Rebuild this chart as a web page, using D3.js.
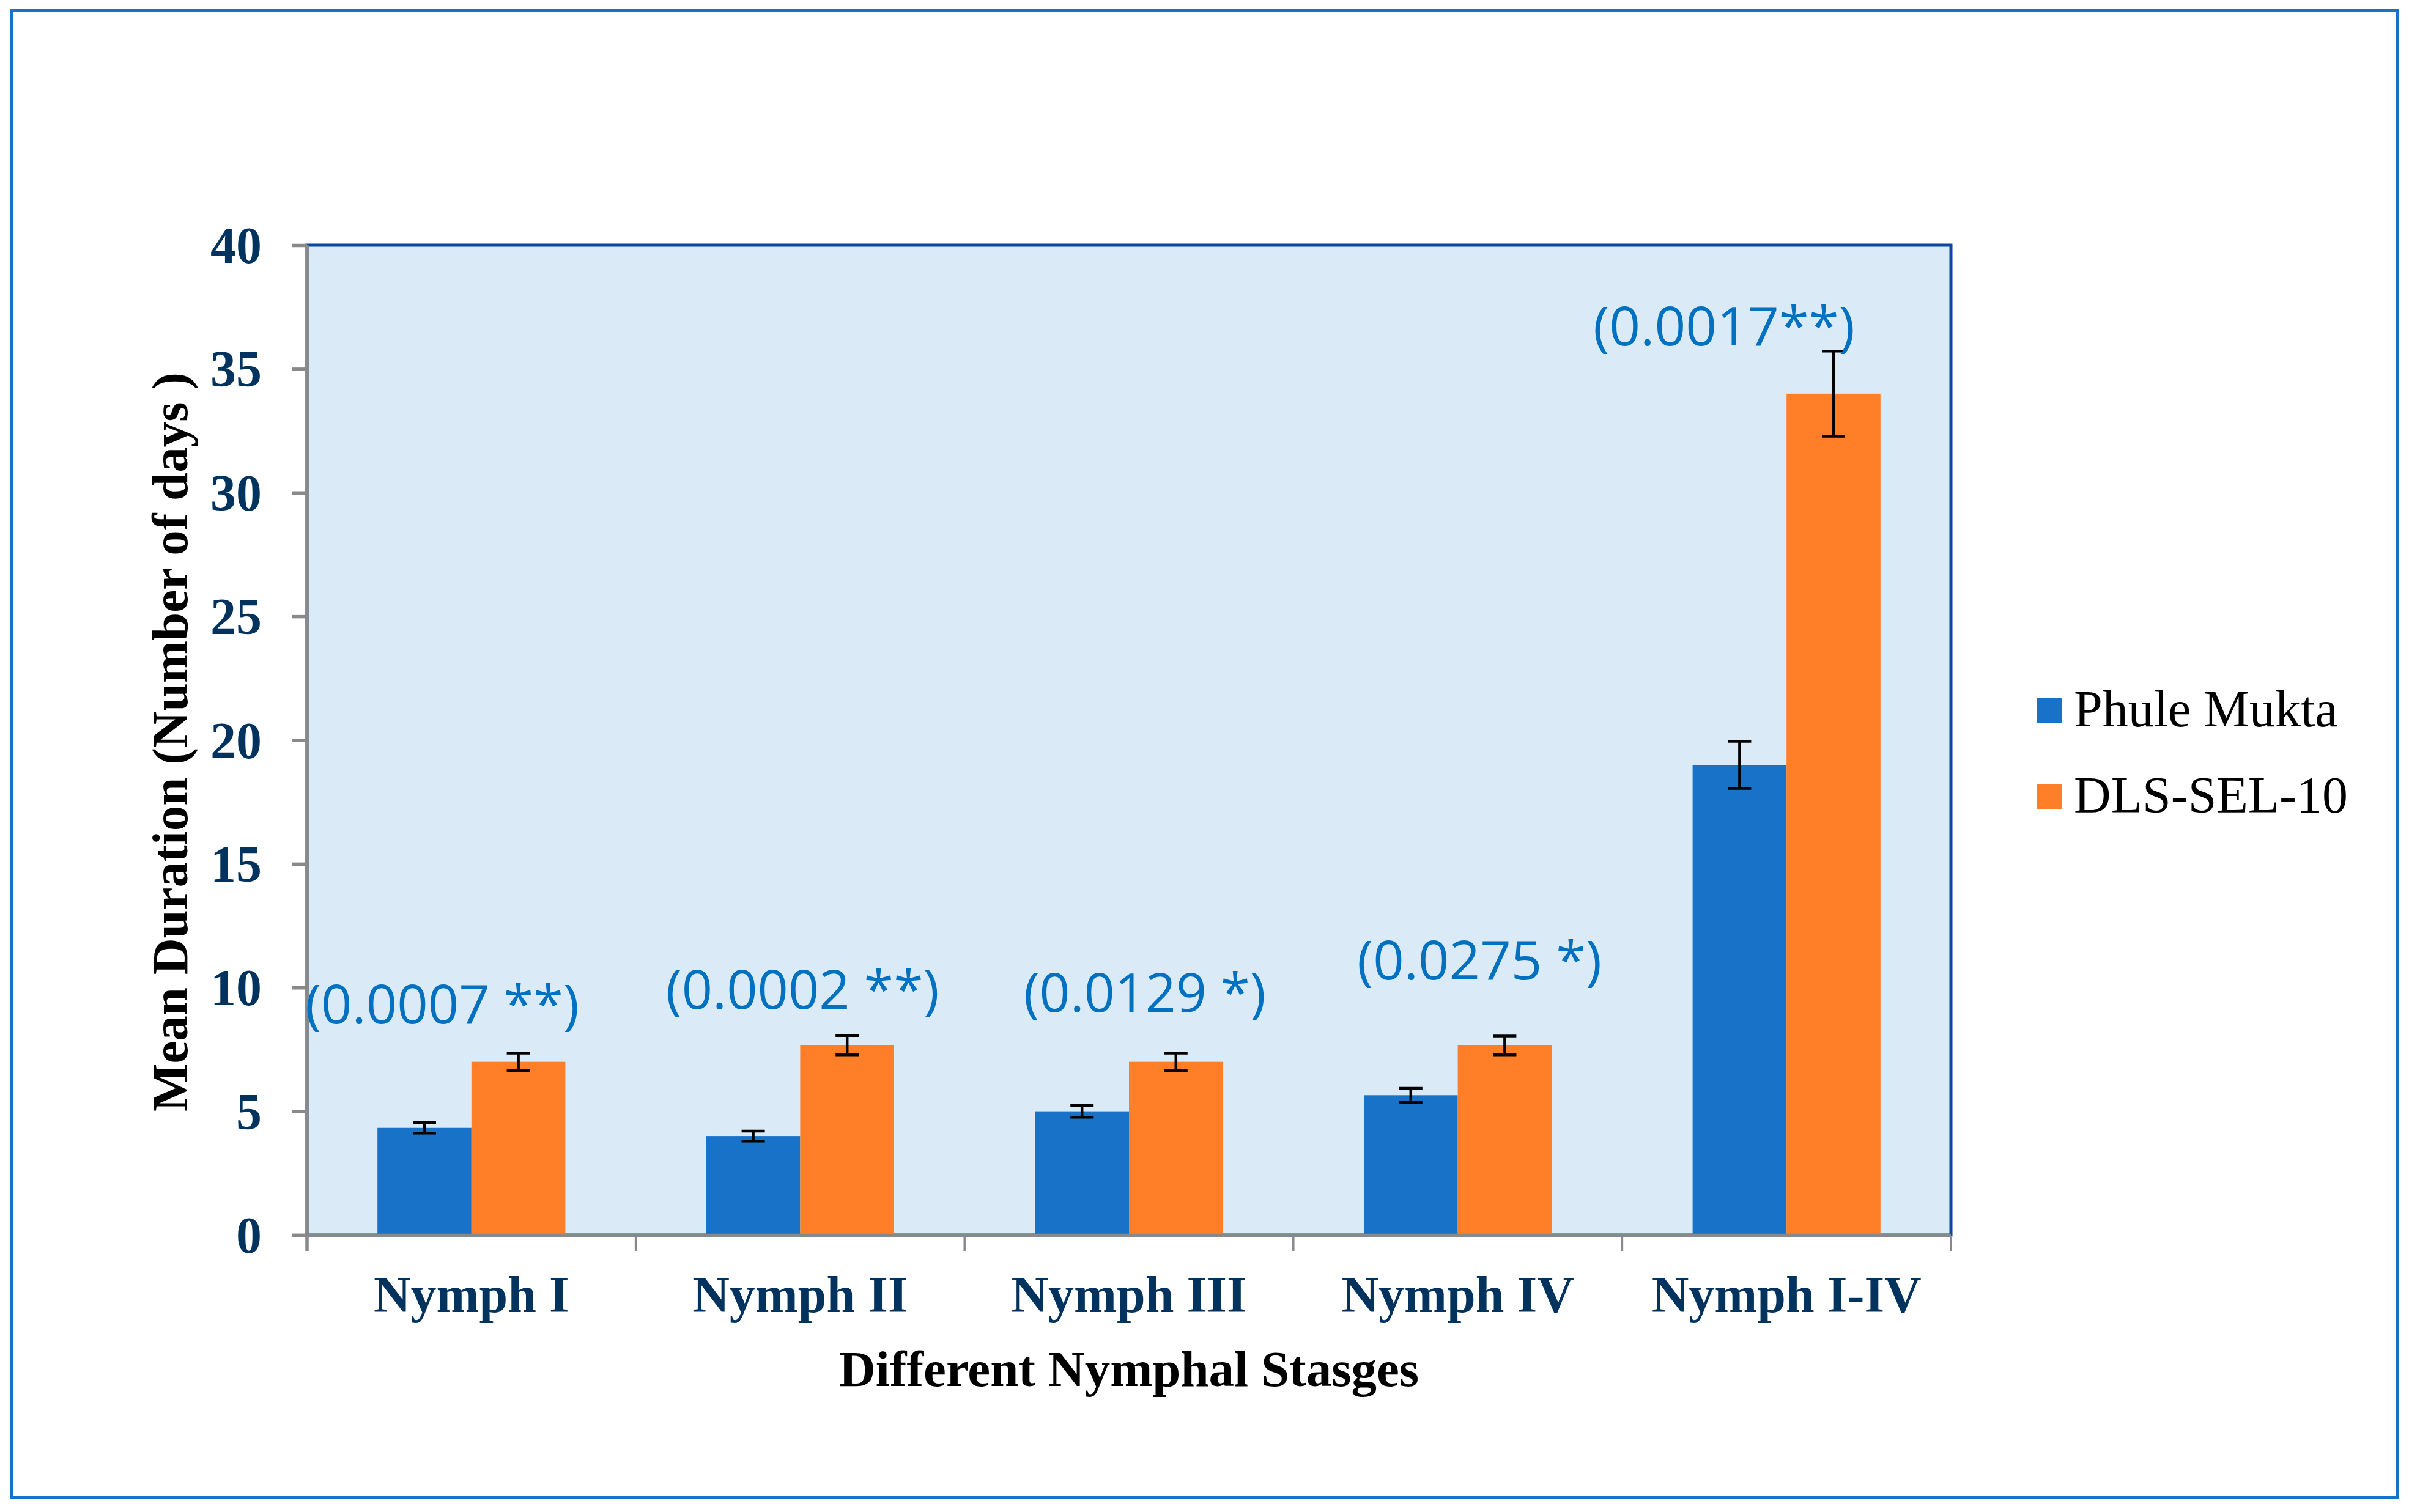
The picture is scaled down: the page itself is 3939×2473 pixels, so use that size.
<!DOCTYPE html>
<html>
<head>
<meta charset="utf-8">
<script src="https://cdn.jsdelivr.net/npm/d3@7"></script>
<style>
  html, body { margin: 0; padding: 0; background: #fff; }
  svg { display: block; }
</style>
</head>
<body>
<svg id="chart" width="3939" height="2473"></svg>
<script>
// ---------------- data ----------------
const categories = ["Nymph I", "Nymph II", "Nymph III", "Nymph IV", "Nymph I-IV"];
const seriesNames = ["Phule Mukta", "DLS-SEL-10"];
const phuleMukta = [4.33, 4.0, 5.0, 5.65, 19.0];
const dlsSel10 = [7.0, 7.67, 7.0, 7.66, 34.0];
const phuleMuktaErr = [0.21, 0.2, 0.24, 0.28, 0.95];
const dlsSel10Err = [0.35, 0.39, 0.35, 0.38, 1.72];
const pValueLabels = ["(0.0007 **)", "(0.0002 **)", "(0.0129 *)", "(0.0275 *)", "(0.0017**)"];
const pValueLevels = [8.55, 9.14, 9.01, 10.33, 35.95];   // label baseline, in axis units
const yTickValues = [0, 5, 10, 15, 20, 25, 30, 35, 40];
const yTitle = "Mean Duration (Number of days )";
const xTitle = "Different Nymphal Stasges";

// ---------------- layout / style ----------------
const W = 3939, H = 2473;
const plot = { left: 502, right: 3190, top: 401, bottom: 2020 };
const colors = { "Phule Mukta": "#1873c8", "DLS-SEL-10": "#fe7f28" };
const navy = "#02335f";
const gray = "#898989";
// manual placement of the p-value labels (fraction of band offset, target width)
const annotShift = [-0.089, 0.007, 0.048, 0.066, -0.19];
const annotWidth = [448, 447, 396, 400, 428];

const svg = d3.select("#chart");

// outer frame
svg.append("rect")
  .attr("x", 18.5).attr("y", 17.5)
  .attr("width", 3919.5 - 18.5).attr("height", 2449.5 - 17.5)
  .attr("fill", "#fff").attr("stroke", "#1873c8").attr("stroke-width", 5);

const x0 = d3.scaleBand().domain(categories).range([plot.left, plot.right]).padding(0);
const x1 = d3.scaleBand().domain(seriesNames).range([0, x0.bandwidth()]).paddingInner(0).paddingOuter(0.75);
const y = d3.scaleLinear().domain([0, 40]).range([plot.bottom, plot.top]);

// plot area
svg.append("rect")
  .attr("x", plot.left).attr("y", plot.top)
  .attr("width", plot.right - plot.left).attr("height", plot.bottom - plot.top)
  .attr("fill", "#daebf7").attr("stroke", "#0b479c").attr("stroke-width", 5);

// bars
const rows = categories.map((c, i) => ({
  cat: c,
  vals: [
    { s: seriesNames[0], v: phuleMukta[i], e: phuleMuktaErr[i] },
    { s: seriesNames[1], v: dlsSel10[i], e: dlsSel10Err[i] }
  ]
}));

const groups = svg.append("g").selectAll("g")
  .data(rows).join("g")
  .attr("transform", d => `translate(${x0(d.cat)},0)`);

groups.selectAll("rect")
  .data(d => d.vals).join("rect")
  .attr("x", d => x1(d.s))
  .attr("width", x1.bandwidth())
  .attr("y", d => y(d.v))
  .attr("height", d => y(0) - y(d.v))
  .attr("fill", d => colors[d.s]);

// error bars
const capHalf = 19;
const eb = groups.selectAll("g.err")
  .data(d => d.vals).join("g").attr("class", "err")
  .attr("stroke", "#000").attr("stroke-width", 4.5);
eb.append("line")
  .attr("x1", d => x1(d.s) + x1.bandwidth() / 2).attr("x2", d => x1(d.s) + x1.bandwidth() / 2)
  .attr("y1", d => y(d.v + d.e)).attr("y2", d => y(d.v - d.e));
eb.append("line")
  .attr("x1", d => x1(d.s) + x1.bandwidth() / 2 - capHalf).attr("x2", d => x1(d.s) + x1.bandwidth() / 2 + capHalf)
  .attr("y1", d => y(d.v + d.e)).attr("y2", d => y(d.v + d.e));
eb.append("line")
  .attr("x1", d => x1(d.s) + x1.bandwidth() / 2 - capHalf).attr("x2", d => x1(d.s) + x1.bandwidth() / 2 + capHalf)
  .attr("y1", d => y(d.v - d.e)).attr("y2", d => y(d.v - d.e));

// y axis
const yAxis = svg.append("g")
  .attr("transform", `translate(${plot.left},0)`)
  .call(d3.axisLeft(y).tickValues(yTickValues).tickSize(24).tickPadding(50).tickFormat(d3.format("d")));
yAxis.select(".domain").remove();
yAxis.selectAll(".tick line").attr("stroke", gray).attr("stroke-width", 5.5);
yAxis.selectAll(".tick text")
  .attr("fill", navy)
  .attr("font-family", "'Liberation Serif', 'Times New Roman', serif")
  .attr("font-weight", "bold")
  .attr("font-size", 84)
  .attr("dy", "0.34em");
svg.append("line")
  .attr("x1", plot.left).attr("x2", plot.left)
  .attr("y1", plot.top).attr("y2", plot.bottom + 26)
  .attr("stroke", gray).attr("stroke-width", 5.5);

// x axis
svg.append("line")
  .attr("x1", plot.left - 24).attr("x2", plot.right)
  .attr("y1", plot.bottom + 0.5).attr("y2", plot.bottom + 0.5)
  .attr("stroke", gray).attr("stroke-width", 5.5);
const bounds = categories.map(c => x0(c)).concat([plot.right]);
svg.append("g").selectAll("line")
  .data(bounds).join("line")
  .attr("x1", d => d).attr("x2", d => d)
  .attr("y1", plot.bottom + 3).attr("y2", plot.bottom + 26)
  .attr("stroke", gray).attr("stroke-width", 3.5);

const xAxis = svg.append("g")
  .attr("transform", `translate(0,${plot.bottom})`)
  .call(d3.axisBottom(x0).tickSize(0).tickPadding(0));
xAxis.select(".domain").remove();
xAxis.selectAll(".tick text")
  .attr("fill", navy)
  .attr("font-family", "'Liberation Serif', 'Times New Roman', serif")
  .attr("font-weight", "bold")
  .attr("font-size", 84)
  .attr("dy", 0)
  .attr("y", 126);

// p-value annotations
svg.append("g").selectAll("text")
  .data(pValueLabels).join("text")
  .attr("x", (d, i) => x0(categories[i]) + x0.bandwidth() * (0.5 + annotShift[i]))
  .attr("y", (d, i) => y(pValueLevels[i]))
  .attr("text-anchor", "middle")
  .attr("fill", "#0070c0")
  .attr("font-family", "'Open Sans', 'Noto Sans', sans-serif")
  .attr("font-size", 88)
  .attr("textLength", (d, i) => annotWidth[i])
  .attr("lengthAdjust", "spacingAndGlyphs")
  .text(d => d);

// axis titles
svg.append("text")
  .attr("transform", `translate(306,${(1817 + 610) / 2}) rotate(-90)`)
  .attr("text-anchor", "middle")
  .attr("fill", "#000")
  .attr("font-family", "'Liberation Serif', 'Times New Roman', serif")
  .attr("font-weight", "bold")
  .attr("font-size", 83)
  .text(yTitle);

svg.append("text")
  .attr("x", (plot.left + plot.right) / 2)
  .attr("y", 2267)
  .attr("text-anchor", "middle")
  .attr("fill", "#000")
  .attr("font-family", "'Liberation Serif', 'Times New Roman', serif")
  .attr("font-weight", "bold")
  .attr("font-size", 83)
  .text(xTitle);

// legend
const legend = svg.append("g").selectAll("g")
  .data(seriesNames).join("g")
  .attr("transform", (d, i) => `translate(3331,${1141 + i * 141})`);
legend.append("rect")
  .attr("width", 41).attr("height", 42)
  .attr("fill", d => colors[d]);
legend.append("text")
  .attr("x", 60).attr("y", 47)
  .attr("fill", "#000")
  .attr("font-family", "'Liberation Serif', 'Times New Roman', serif")
  .attr("font-size", 84)
  .text(d => d);
</script>
</body>
</html>
